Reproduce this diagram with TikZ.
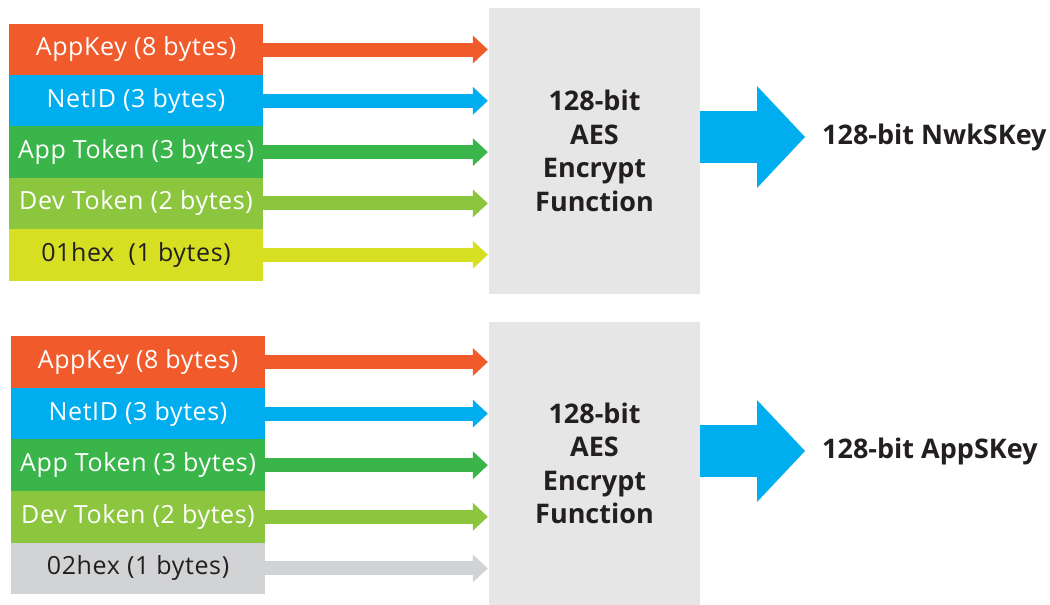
\documentclass[tikz,border=0pt]{standalone}
\usepackage{fontspec}
\setmainfont{Open Sans}
\usetikzlibrary{arrows.meta}
\definecolor{cOrange}{HTML}{F15A2B}
\definecolor{cBlue}{HTML}{00AEEF}
\definecolor{cGreen}{HTML}{39B54A}
\definecolor{cLime}{HTML}{8CC63F}
\definecolor{cYellow}{HTML}{D7DF23}
\definecolor{cGrey}{HTML}{D1D3D4}
\definecolor{cBox}{HTML}{E6E6E6}
\definecolor{cText}{HTML}{231F20}
\begin{document}
\begin{tikzpicture}[x=1pt,y=-1pt,
 rowbox/.style={minimum width=254pt, minimum height=51.6pt, inner sep=0pt, font=\fontsize{25}{27}\selectfont\addfontfeatures{LetterSpace=2.5}, text=white},
 aesbox/.style={fill=cBox, minimum width=211pt, inner sep=0pt, align=center, font=\bfseries\fontsize{27}{33.5}\selectfont, text=cText},
 inarrow/.style={line width=14pt, -{Triangle[length=15pt,width=28pt,line width=0pt]}, shorten >=1pt},
 bigarrow/.style={line width=52pt, cBlue, -{Triangle[length=48pt,width=102pt,line width=0pt]}},
 outlabel/.style={font=\bfseries\fontsize{27}{30}\selectfont, text=cText, anchor=west, inner xsep=17pt, inner ysep=0pt}]

\useasboundingbox (0,0) rectangle (1050,605);

% ---- top group ----
\node[aesbox, minimum height=286pt] (aes1) at (594.5,151) {128-bit\\AES\\Encrypt\\Function};
\node[rowbox, fill=cOrange] (a1) at (136,49.5) {AppKey (8 bytes)};
\node[rowbox, fill=cBlue] (a2) at (136,100.8) {NetID (3 bytes)};
\node[rowbox, fill=cGreen] (a3) at (136,152.1) {App Token (3 bytes)};
\node[rowbox, fill=cLime] (a4) at (136,203.4) {Dev Token (2 bytes)};
\node[rowbox, fill=cYellow, text=cText] (a5) at (136,254.7) {01hex\ \ (1 bytes)};
\draw[inarrow, cOrange] (a1.east) -- (a1.east -| aes1.west);
\draw[inarrow, cBlue] (a2.east) -- (a2.east -| aes1.west);
\draw[inarrow, cGreen] (a3.east) -- (a3.east -| aes1.west);
\draw[inarrow, cLime] (a4.east) -- (a4.east -| aes1.west);
\draw[inarrow, cYellow] (a5.east) -- (a5.east -| aes1.west);
\node[outlabel] (out1) at (805,137) {128-bit NwkSKey};
\draw[bigarrow] (aes1.east |- out1.west) -- (out1.west);

% ---- bottom group ----
\node[aesbox, minimum height=283pt] (aes2) at (594.5,463.5) {128-bit\\AES\\Encrypt\\Function};
\node[rowbox, fill=cOrange] (b1) at (138,362) {AppKey (8 bytes)};
\node[rowbox, fill=cBlue] (b2) at (138,413.6) {NetID (3 bytes)};
\node[rowbox, fill=cGreen] (b3) at (138,465.2) {App Token (3 bytes)};
\node[rowbox, fill=cLime] (b4) at (138,516.8) {Dev Token (2 bytes)};
\node[rowbox, fill=cGrey, text=cText] (b5) at (138,568.4) {02hex (1 bytes)};
\draw[inarrow, cOrange] (b1.east) -- (b1.east -| aes2.west);
\draw[inarrow, cBlue] (b2.east) -- (b2.east -| aes2.west);
\draw[inarrow, cGreen] (b3.east) -- (b3.east -| aes2.west);
\draw[inarrow, cLime] (b4.east) -- (b4.east -| aes2.west);
\draw[inarrow, cGrey] (b5.east) -- (b5.east -| aes2.west);
\node[outlabel] (out2) at (805,451) {128-bit AppSKey};
\draw[bigarrow] (aes2.east |- out2.west) -- (out2.west);
\end{tikzpicture}
\end{document}
